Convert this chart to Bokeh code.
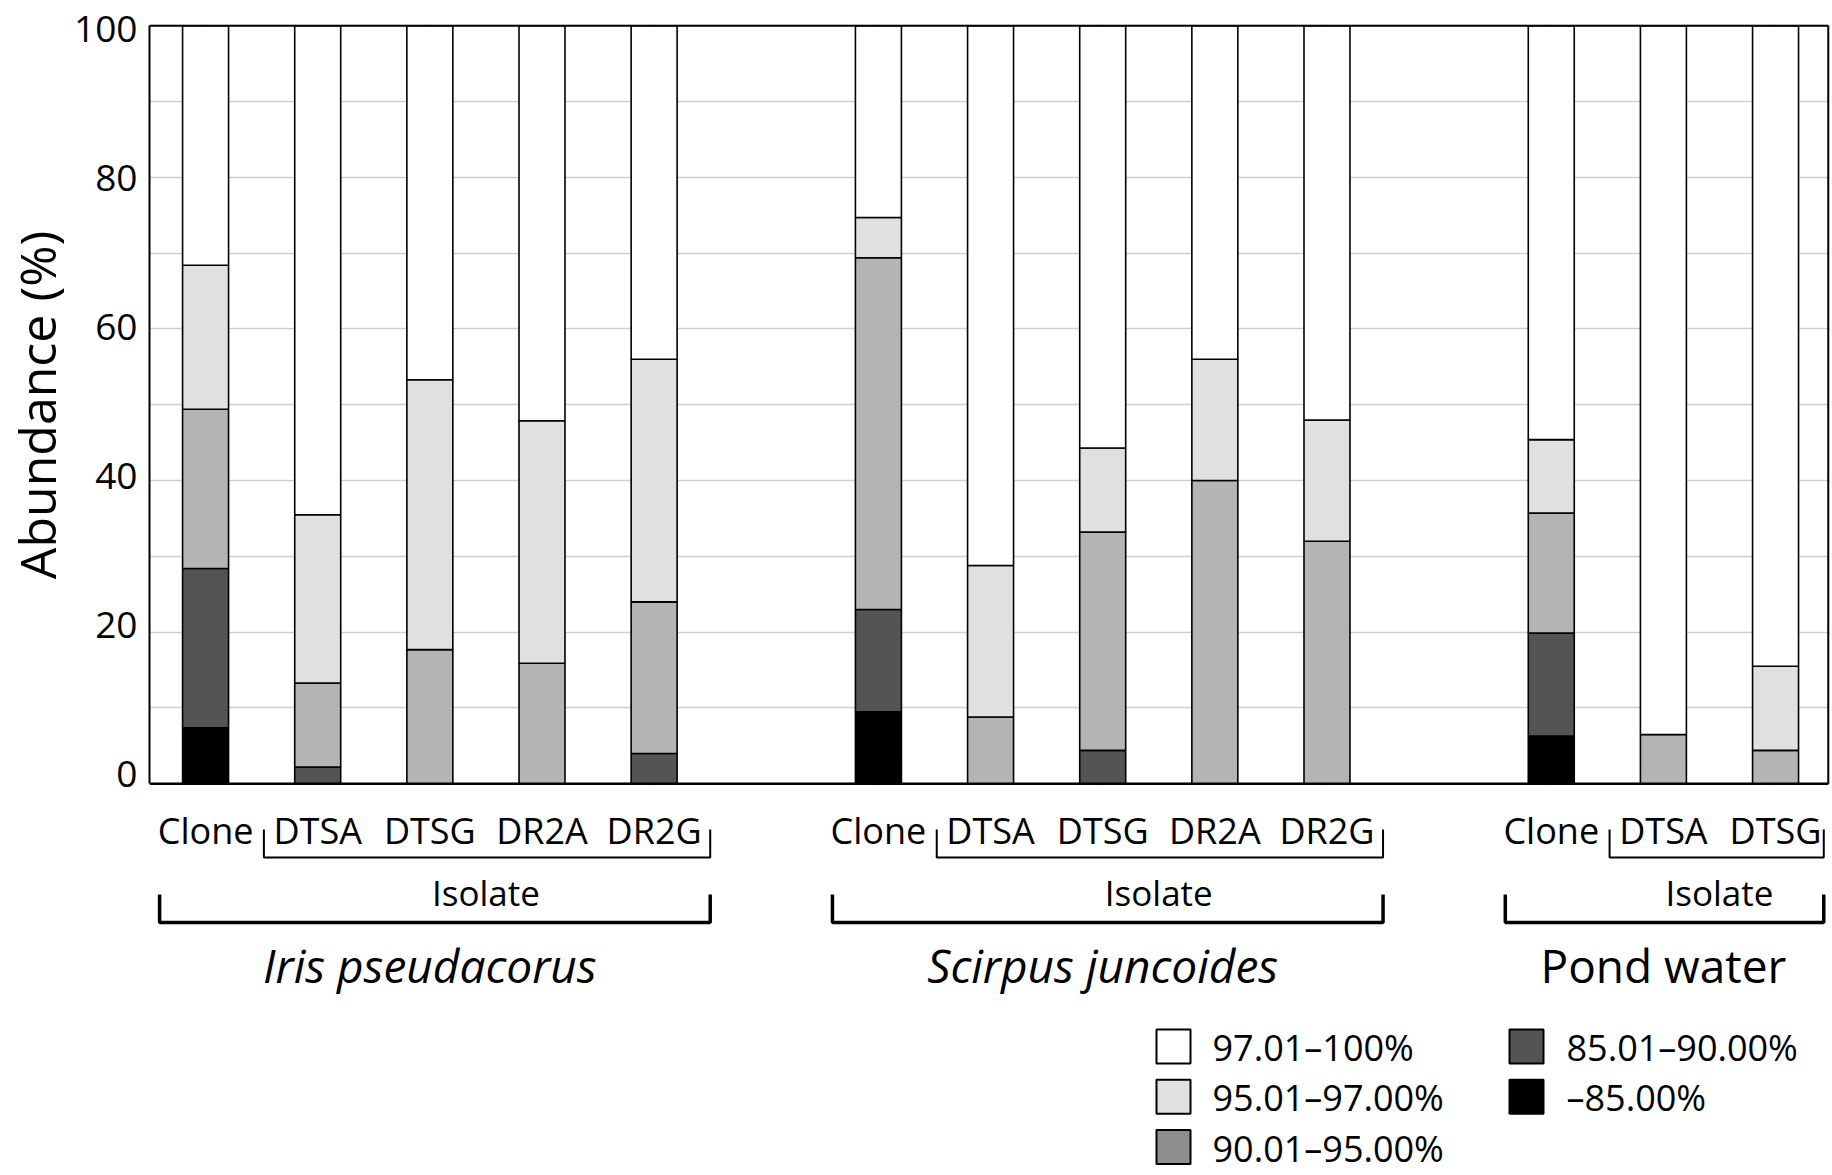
from bokeh.plotting import figure
from bokeh.layouts import column
from bokeh.models import Range1d, FixedTicker, ColumnDataSource, LinearAxis, Grid
from bokeh.core.properties import value
from bokeh.embed import file_html
from bokeh.resources import INLINE

# ---------------- data ----------------
groups = ["Iris pseudacorus", "Scirpus juncoides", "Pond water"]
group_italic = [True, True, False]
group_samples = [["Clone", "DTSA", "DTSG", "DR2A", "DR2G"],
                 ["Clone", "DTSA", "DTSG", "DR2A", "DR2G"],
                 ["Clone", "DTSA", "DTSG"]]
isolate_label = "Isolate"
y_title = "Abundance (%)"
y_ticks = [0, 20, 40, 60, 80, 100]

# similarity classes, bottom to top of each stack
classes = ["\u201385.00%", "85.01\u201390.00%", "90.01\u201395.00%", "95.01\u201397.00%", "97.01\u2013100%"]
class_colors = ["#000000", "#545454", "#b4b4b4", "#e0e0e0", "#ffffff"]
legend_colors = ["#000000", "#545454", "#8e8e8e", "#e0e0e0", "#ffffff"]

# abundance (%) per sample (Iris x5, Scirpus x5, Pond x3)
lt85    = [7.4, 0.0, 0.0, 0.0, 0.0, 9.5, 0.0, 0.0, 0.0, 0.0, 6.3, 0.0, 0.0]
p85_90  = [21.0, 2.2, 0.0, 0.0, 4.0, 13.5, 0.0, 4.4, 0.0, 0.0, 13.6, 0.0, 0.0]
p90_95  = [21.0, 11.1, 17.7, 15.9, 20.0, 46.4, 8.8, 28.8, 40.0, 32.0, 15.8, 6.5, 4.4]
p95_97  = [19.0, 22.2, 35.6, 32.0, 32.0, 5.3, 20.0, 11.1, 16.0, 16.0, 9.7, 0.0, 11.1]
p97_100 = [31.6, 64.5, 46.7, 52.1, 44.0, 25.3, 71.2, 55.7, 44.0, 52.0, 54.6, 93.5, 84.5]

# ---------------- layout ----------------
FONT = "Open Sans"
W, H = 1830, 1174
H1 = 800                      # height of the bar panel (incl. bottom border)
BORDER_B1 = 14
BORDER_L, BORDER_T = 149, 23
X0, X1 = -0.5, 14.49
Y_END = 100.3
PXU = 7.58                    # pixels per percent
PAGE_Y0 = BORDER_T + Y_END * PXU   # page y of value 0
FRAME_BOT = H1 - BORDER_B1
Y_START1 = Y_END - (FRAME_BOT - BORDER_T) / PXU
XPU = (W - BORDER_L) / (X1 - X0)

# tick-label placement scale (labels sit on a slightly tighter scale than the grid)
LAB_PXU, LAB_Y0 = 7.45, 773.5


def lab(page_y):
    return (LAB_Y0 - page_y) / LAB_PXU


def py(page_y):
    return (PAGE_Y0 - page_y) / PXU


def px(page_x):
    return X0 + (page_x - BORDER_L) / XPU


def base(page_y, fs):
    # alphabetic baseline placement, corrected for renderer offset
    return py(page_y - 0.39 * fs)


group_offsets = [0, 6, 12]
xs, labels = [], []
for off, samples in zip(group_offsets, group_samples):
    for i, s in enumerate(samples):
        xs.append(off + i)
        labels.append(s)

stackers = ["c0", "c1", "c2", "c3", "c4"]
src = ColumnDataSource(dict(x=xs, c0=lt85, c1=p85_90, c2=p90_95, c3=p95_97, c4=p97_100))

xr = Range1d(X0, X1)

# ---------- top panel: bars ----------
p = figure(width=W, height=H1, output_backend="svg", toolbar_location=None,
           x_range=xr, y_range=Range1d(Y_START1, Y_END),
           x_axis_location=None, y_axis_location=None,
           min_border_left=BORDER_L, min_border_top=BORDER_T,
           min_border_right=0, min_border_bottom=BORDER_B1)
p.outline_line_color = None
p.background_fill_color = "white"
p.border_fill_color = "white"
p.extra_y_ranges = {"lab": Range1d(lab(FRAME_BOT), lab(BORDER_T))}

p.add_layout(Grid(dimension=1, ticker=FixedTicker(ticks=list(range(0, 101, 10))), bounds=(0, 100),
                  grid_line_color="#cfcfcf", grid_line_width=1.6))

ax = LinearAxis(y_range_name="lab", ticker=FixedTicker(ticks=y_ticks),
                bounds=(lab(PAGE_Y0), lab(PAGE_Y0 - 100 * PXU)))
ax.axis_line_width = 2
ax.axis_line_color = "black"
ax.major_tick_line_color = None
ax.minor_tick_line_color = None
ax.major_tick_out = 0
ax.major_tick_in = 0
ax.major_label_standoff = 12
ax.major_label_text_font = FONT
ax.major_label_text_font_size = "37px"
ax.major_label_text_color = "black"
ax.axis_label = y_title
ax.axis_label_text_font = FONT
ax.axis_label_text_font_size = "50px"
ax.axis_label_text_font_style = "normal"
ax.axis_label_text_color = "black"
ax.axis_label_standoff = 0
p.add_layout(ax, "left")

p.vbar_stack(stackers, x="x", width=0.41, source=src, fill_color=class_colors,
             line_color="black", line_width=1.6)

X_RIGHT = 14.47
p.segment(x0=[X0, X0, X_RIGHT], y0=[0, 100, 0], x1=[X_RIGHT, X_RIGHT, X_RIGHT], y1=[0, 100, 100],
          line_color="black", line_width=[2.6, 2.0, 2.0])

# ---------- bottom panel: labels, brackets, legend ----------
q = figure(width=W, height=H - H1, output_backend="svg", toolbar_location=None,
           x_range=xr, y_range=Range1d(py(H), py(H1)),
           x_axis_type=None, y_axis_type=None,
           min_border_left=BORDER_L, min_border_top=0,
           min_border_right=0, min_border_bottom=0)
q.outline_line_color = None
q.background_fill_color = "white"
q.border_fill_color = "white"
q.xgrid.visible = False
q.ygrid.visible = False

q.text(x=xs, y=[base(844, 36)] * len(xs), text=labels, text_font=value(FONT), text_font_size="36px",
       text_align="center", text_baseline="alphabetic", text_color="black")

sb_top, sb_h = py(829), py(857)
bb_top, bb_h = py(894), py(922)
small_x, small_y, big_x, big_y = [], [], [], []
iso_x, grp_x = [], []
for off, samples in zip(group_offsets, group_samples):
    first, last = off, off + len(samples) - 1
    right = min(last + 0.5, X_RIGHT - 0.04)
    left_s = first + 0.52
    left_b = first - 0.41
    small_x.append([left_s, left_s, right, right])
    small_y.append([sb_top, sb_h, sb_h, sb_top])
    big_x.append([left_b, left_b, right, right])
    big_y.append([bb_top, bb_h, bb_h, bb_top])
    iso_x.append((first + 1 + last) / 2)
    grp_x.append((first + last) / 2)

q.multi_line(small_x, small_y, line_color="black", line_width=2.0)
q.multi_line(big_x, big_y, line_color="black", line_width=3.5)
q.text(x=iso_x, y=[base(906, 35)] * 3, text=[isolate_label] * 3, text_font=value(FONT),
       text_font_size="35px", text_align="center", text_baseline="alphabetic", text_color="black")
for gx, g, it in zip(grp_x, groups, group_italic):
    q.text(x=[gx], y=[base(982, 46)], text=[g], text_font=value(FONT), text_font_size="46px",
           text_font_style="italic" if it else "normal",
           text_align="center", text_baseline="alphabetic", text_color="black")

# legend (manual, two columns)
SHIFT = 8
leg_order = [4, 3, 2, 1, 0]
col_x = [px(1173), px(1526)]
txt_x = [px(1212), px(1566)]
row_cy = [1054 - SHIFT, 1104.3 - SHIFT, 1154.6 - SHIFT]
row_base = [1069 - SHIFT, 1119.3 - SHIFT, 1169.6 - SHIFT]
sw_x, sw_y, sw_c, lt_x, lt_y, lt_t = [], [], [], [], [], []
for k, ci in enumerate(leg_order):
    col = 0 if k < 3 else 1
    row = k if k < 3 else k - 3
    sw_x.append(col_x[col]); sw_y.append(py(row_cy[row])); sw_c.append(legend_colors[ci])
    lt_x.append(txt_x[col]); lt_y.append(base(row_base[row], 36)); lt_t.append(classes[ci])
q.rect(x=sw_x, y=sw_y, width=34, height=34, width_units="screen", height_units="screen",
       fill_color=sw_c, line_color="black", line_width=2)
q.text(x=lt_x, y=lt_y, text=lt_t, text_font=value(FONT), text_font_size="36px",
       text_align="left", text_baseline="alphabetic", text_color="black")

layout = column(p, q, spacing=0)
open("out.html", "w").write(file_html(layout, INLINE))
